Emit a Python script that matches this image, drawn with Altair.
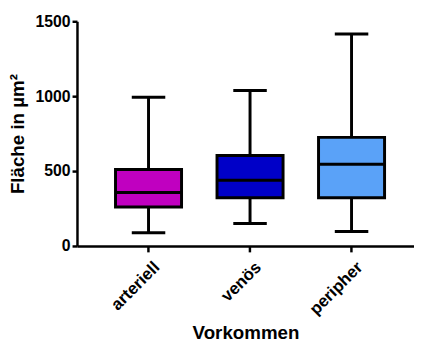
import altair as alt
import pandas as pd

categories = ["arteriell", "venös", "peripher"]
whisker_low = [88, 150, 97]
q1 = [260, 322, 322]
median = [357, 439, 545]
q3 = [511, 604, 725]
whisker_high = [993, 1038, 1415]
colors = ["#C000C0", "#0000C8", "#5AA2F8"]

df = pd.DataFrame({
    "cat": categories, "lo": whisker_low, "q1": q1, "med": median,
    "q3": q3, "hi": whisker_high,
})

xs = alt.Scale(type="band", domain=categories, paddingInner=0, paddingOuter=0.16, align=0.64)
ys = alt.Scale(domain=[0, 1500], nice=False)

x_enc = alt.X("cat:N", scale=xs, sort=categories, title="Vorkommen",
              axis=alt.Axis(labelAngle=-45, labelAlign="right", labelBaseline="top",
                            labelFontSize=17, labelFontWeight="bold", labelColor="#000",
                            labelPadding=7, labelOffset=3,
                            titleFontSize=19, titleFontWeight="bold", titleColor="#000",
                            titlePadding=6,
                            domainColor="#000", domainWidth=2.5, tickColor="#000",
                            tickWidth=2.5, tickSize=6))
y_axis = alt.Axis(values=[0, 500, 1000, 1500], format="d", labelFontSize=16, labelFontWeight="bold",
                  labelColor="#000", labelPadding=2, titleFontSize=19, titleFontWeight="bold",
                  titleColor="#000", titlePadding=8, domainColor="#000", domainWidth=2.5,
                  tickColor="#000", tickWidth=2.5, tickSize=5, grid=False)

base = alt.Chart(df)

whisk = base.mark_rule(color="#000", strokeWidth=3).encode(
    x=x_enc,
    y=alt.Y("lo:Q", scale=ys, axis=y_axis, title="Fläche in µm²"),
    y2="hi:Q",
)
box = base.mark_bar(size=67, stroke="#000", strokeWidth=3, opacity=1).encode(
    x=alt.X("cat:N", scale=xs, sort=categories),
    y=alt.Y("q1:Q", scale=ys),
    y2="q3:Q",
    color=alt.Color("cat:N", scale=alt.Scale(domain=categories, range=colors), legend=None),
)
med = base.mark_tick(size=68, thickness=3, color="#000", opacity=1).encode(
    x=alt.X("cat:N", scale=xs, sort=categories),
    y=alt.Y("med:Q", scale=ys),
)
cap_lo = base.mark_tick(size=34, thickness=3, color="#000", opacity=1).encode(
    x=alt.X("cat:N", scale=xs, sort=categories),
    y=alt.Y("lo:Q", scale=ys),
)
cap_hi = base.mark_tick(size=34, thickness=3, color="#000", opacity=1).encode(
    x=alt.X("cat:N", scale=xs, sort=categories),
    y=alt.Y("hi:Q", scale=ys),
)

chart = alt.layer(whisk, box, med, cap_lo, cap_hi).properties(
    width=342, height=228,
    autosize=alt.AutoSizeParams(type="none"),
    padding={"left": 70, "top": 11, "right": 0, "bottom": 97},
    background="white",
).configure(
    font="Liberation Sans",
    axis=alt.AxisConfig(grid=False),
    view=alt.ViewConfig(stroke=None),
)

chart.save("out.html", embed_options={"renderer": "svg", "actions": False})
